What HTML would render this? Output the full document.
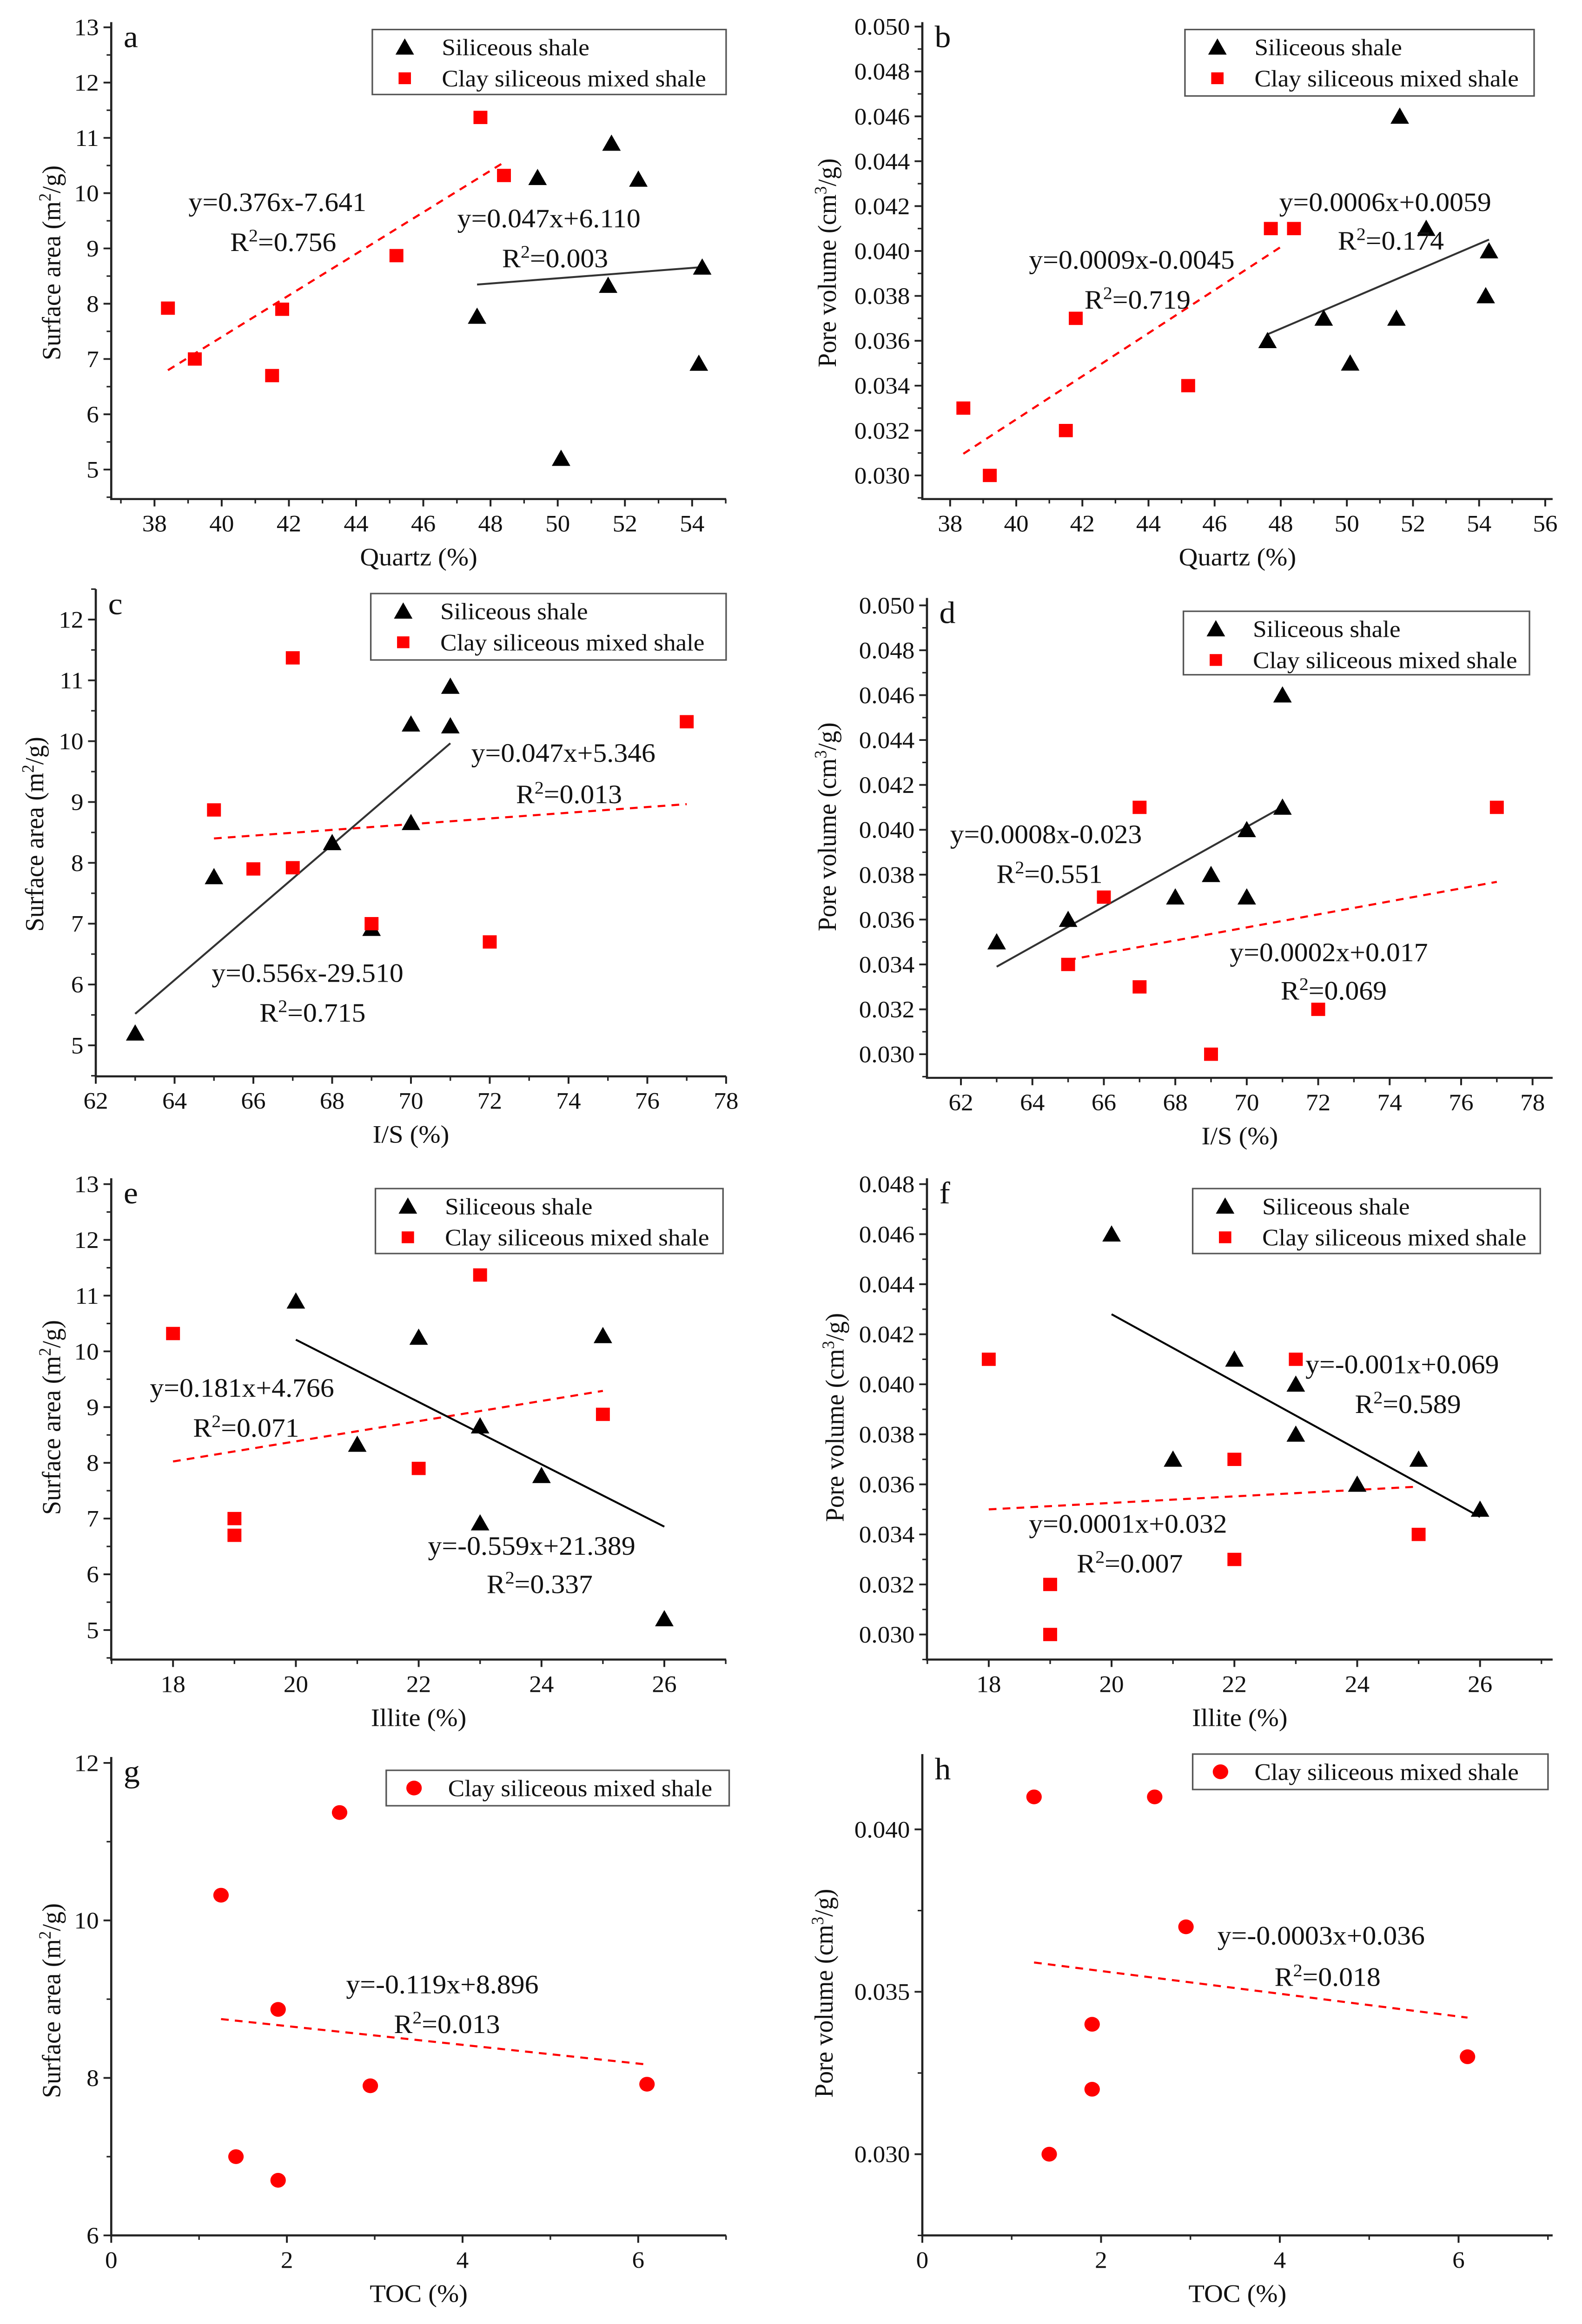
<!DOCTYPE html>
<html><head><meta charset="utf-8">
<style>
html,body{margin:0;padding:0;background:#fff;width:100vw;height:100vh;overflow:hidden;}
svg{display:block;position:absolute;left:0;top:0;width:100vw;height:100vh;}
text{font-family:"Liberation Serif","Times New Roman",serif;fill:#111;}
</style></head>
<body>
<svg id="fig" xmlns="http://www.w3.org/2000/svg" viewBox="0 0 1024 1574" preserveAspectRatio="none"></svg>
<script>
// ---------- DATA ----------
const aBlackX=[47.6,49.4,50.1,51.5,51.6,52.4,54.2,54.3];
const aBlackY=[7.77,10.28,5.2,8.33,10.9,10.25,6.92,8.66];
const aRedX=[38.4,39.2,41.5,41.8,45.2,47.7,48.4];
const aRedY=[7.92,7.0,6.7,7.9,8.87,11.37,10.32];
const aFitBlack=[0.047,6.110,47.6,54.3];
const aFitRed=[0.376,-7.641,38.4,48.4];

const bBlackX=[47.6,49.3,50.1,51.5,51.6,52.4,54.2,54.3];
const bBlackY=[0.036,0.037,0.035,0.037,0.046,0.041,0.038,0.040];
const bRedX=[38.4,39.2,41.5,41.8,45.2,47.7,48.4];
const bRedY=[0.033,0.030,0.032,0.037,0.034,0.041,0.041];
const bFitBlack=[0.00063,0.0063,47.6,54.3];
const bFitRed=[0.00096,-0.0059,38.4,48];

const cBlackX=[63,65,68,69,70,70,71,71];
const cBlackY=[5.2,7.77,8.33,6.92,10.28,8.66,10.9,10.25];
const cRedX=[65,66,67,67,69,72,77];
const cRedY=[8.87,7.9,11.37,7.92,7.0,6.7,10.32];
const cFitBlack=[0.556,-29.51,63,71];
const cFitRed=[0.047,5.346,65,77];

const dBlackX=[63,65,68,69,70,70,71,71];
const dBlackY=[0.035,0.036,0.037,0.038,0.040,0.037,0.046,0.041];
const dRedX=[65,66,67,67,69,72,77];
const dRedY=[0.034,0.037,0.041,0.033,0.030,0.032,0.041];
const dFitBlack=[0.00089,-0.02217,63,71];
const dFitRed=[0.00029,0.01535,65,77];

const eBlackX=[20,21,22,23,23,24,25,26];
const eBlackY=[10.9,8.33,10.25,8.66,6.92,7.77,10.28,5.2];
const eRedX=[18,19,19,22,23,25];
const eRedY=[10.32,7.0,6.7,7.9,11.37,8.87];
const eFitBlack=[-0.559,21.389,20,26];
const eFitRed=[0.181,4.766,18,25];

const fBlackX=[20,21,22,23,23,24,25,26];
const fBlackY=[0.046,0.037,0.041,0.040,0.038,0.036,0.037,0.035];
const fRedX=[18,19,19,22,22,23,25];
const fRedY=[0.041,0.032,0.030,0.037,0.033,0.041,0.034];
const fFitBlack=[-0.00135,0.0698,20,26];
const fFitRed=[0.00013,0.03266,18,25];

const gRedX=[1.25,1.42,1.9,1.9,2.6,2.95,6.1];
const gRedY=[10.32,7.0,8.87,6.7,11.37,7.9,7.92];
const gFitRed=[-0.119,8.896,1.25,6.1];

const hRedX=[1.25,1.42,1.9,1.9,2.6,2.95,6.1];
const hRedY=[0.041,0.030,0.034,0.032,0.041,0.037,0.033];
const hFitRed=[-0.00035,0.03634,1.25,6.1];

const xTicksQuartzA=[38,40,42,44,46,48,50,52,54];
const xTicksQuartzB=[38,40,42,44,46,48,50,52,54,56];
const xTicksIS=[62,64,66,68,70,72,74,76,78];
const xTicksIllite=[18,20,22,24,26];
const xTicksTOC=[0,2,4,6];
const yTicksSA=[5,6,7,8,9,10,11,12,13];
const yTicksSAc=[5,6,7,8,9,10,11,12];
const yTicksPV=[0.030,0.032,0.034,0.036,0.038,0.040,0.042,0.044,0.046,0.048,0.050];
const yTicksPVf=[0.030,0.032,0.034,0.036,0.038,0.040,0.042,0.044,0.046,0.048];
const yTicksSAg=[6,8,10,12];
const yTicksPVh=[0.030,0.035,0.040];

// ---------- DRAW ----------
const NS="http://www.w3.org/2000/svg";
const svg=document.getElementById('fig');
function mk(tag,attrs,parent){const e=document.createElementNS(NS,tag);for(const k in attrs)e.setAttribute(k,attrs[k]);(parent||svg).appendChild(e);return e;}

function panel(p){
  const g=mk('g',{});
  
  
  const sx=v=>p.L+(v-p.x0)/(p.x1-p.x0)*(p.R-p.L);
  const sy=v=>p.B-(v-p.y0)/(p.y1-p.y0)*(p.B-p.T);
  const ax=mk('path',{d:`M${p.L} ${p.T} L${p.L} ${p.B} L${p.R} ${p.B}`,fill:'none',stroke:'#222','stroke-width':1.4},g);
  
  
  p.xt.forEach(v=>{
    const x=sx(v);
    mk('line',{x1:x,y1:p.B,x2:x,y2:p.B+5,stroke:'#222','stroke-width':1.2},g);
    const t=mk('text',{x:x,y:p.B+22,'text-anchor':'middle','font-size':16},g);
    t.textContent=p.xf?p.xf(v):v;
    
    
  });
  for(let v=p.xt[0]-p.xm;v<=p.x1+1e-9;v+=p.xm){
    if(v<p.x0-1e-9)continue;
    mk('line',{x1:sx(v),y1:p.B,x2:sx(v),y2:p.B+3,stroke:'#222','stroke-width':1},g);
  }
  p.yt.forEach(v=>{
    const y=sy(v);
    mk('line',{x1:p.L-5,y1:y,x2:p.L,y2:y,stroke:'#222','stroke-width':1.2},g);
    const t=mk('text',{x:p.L-8,y:y+5.5,'text-anchor':'end','font-size':16},g);
    t.textContent=p.yf?p.yf(v):v;
    
    
  });
  for(let v=p.yt[0]-p.ym;v<=p.y1+1e-9;v+=p.ym){
    if(v<p.y0-1e-9)continue;
    mk('line',{x1:p.L-3,y1:sy(v),x2:p.L,y2:sy(v),stroke:'#222','stroke-width':1},g);
  }
  const xt=mk('text',{x:(p.L+p.R)/2,y:p.B+45,'text-anchor':'middle','font-size':17},g);
  xt.textContent=p.xlab;
  
  
  const yt=mk('text',{x:0,y:0,'text-anchor':'middle','font-size':17,transform:`translate(${p.yx},${p.yc}) rotate(-90)`},g);
  yt.innerHTML=p.ylab;
  
  
  const lt=mk('text',{x:p.L+8,y:p.T+17,'font-size':21},g);
  lt.textContent=p.id;
  
  
  p.fits.forEach(f=>{
    const d=f.v;
    const l=mk('line',{x1:sx(d[2]),y1:sy(d[0]*d[2]+d[1]),x2:sx(d[3]),y2:sy(d[0]*d[3]+d[1]),stroke:f.c,'stroke-width':f.c==='red'?1.4:1.3},g);
    if(f.c==='red')l.setAttribute('stroke-dasharray','5,4');
    
    
  });
  p.series.forEach(s=>{
    s.x.forEach((xv,i)=>{
      const x=sx(xv),y=sy(s.y[i]);let m;
      if(s.m==='tri')m=mk('path',{d:`M${x} ${y-6} L${x+6} ${y+5} L${x-6} ${y+5}Z`,fill:'#000'},g);
      else if(s.m==='sq')m=mk('rect',{x:x-4.5,y:y-4.5,width:9,height:9,fill:'#f00'},g);
      else m=mk('circle',{cx:x,cy:y,r:5,fill:'#f00'},g);
      
      
    });
  });
  p.ann.forEach(a=>{
    const t=mk('text',{x:a[0],y:a[1],'font-size':18},g);
    t.innerHTML=a[2];
    
    
  });
  const L=p.leg;
  const lg=mk('g',{},g);
  
  
  mk('rect',{x:L[0],y:L[1],width:L[2],height:L[3],fill:'#fff',stroke:'#555','stroke-width':1},lg);
  const rows=p.single?[['circ','Clay siliceous mixed shale']]:[['tri','Siliceous shale'],['sq','Clay siliceous mixed shale']];
  rows.forEach((r,i)=>{
    const cy=L[1]+(p.single?L[3]/2:12+i*21);const mx=L[0]+(p.single?18:21);
    let m;
    if(r[0]==='tri')m=mk('path',{d:`M${mx} ${cy-6} L${mx+6} ${cy+5} L${mx-6} ${cy+5}Z`,fill:'#000'},lg);
    else if(r[0]==='sq')m=mk('rect',{x:mx-4,y:cy-4,width:8,height:8,fill:'#f00'},lg);
    else m=mk('circle',{cx:mx,cy:cy,r:5,fill:'#f00'},lg);
    
    
    const t=mk('text',{x:mx+(p.single?22:24),y:cy+5.5,'font-size':16},lg);
    t.textContent=r[1];
    
    
  });
}
const f3=v=>v.toFixed(3);
const SA='Surface area (m<tspan baseline-shift="super" font-size="11">2</tspan>/g)';
const PV='Pore volume (cm<tspan baseline-shift="super" font-size="11">3</tspan>/g)';
const R2=v=>'R<tspan baseline-shift="super" font-size="12">2</tspan>='+v;

panel({id:'a',L:72,R:470,T:15,B:338,x0:38-28/43.5*2,x1:38+370/43.5*2,y0:5-20/37.5,y1:13+3.5/37.5,xt:xTicksQuartzA,xm:1,yt:yTicksSA,ym:0.5,
 xlab:'Quartz (%)',ylab:SA,yx:39,yc:178,
 fits:[{v:aFitRed,c:'red'},{v:aFitBlack,c:'#333'}],
 series:[{x:aBlackX,y:aBlackY,m:'tri'},{x:aRedX,y:aRedY,m:'sq'}],
 ann:[[122,143,'y=0.376x-7.641'],[149,170,R2('0.756')],[296,154,'y=0.047x+6.110'],[325,181,R2('0.003')]],
 leg:[241,20,229,44]});
panel({id:'b',L:597,R:1005,T:15,B:338,x0:38-18/21.4,x1:38+390/21.4,y0:0.030-16/15200,y1:0.050+3/15200,xt:xTicksQuartzB,xm:1,yt:yTicksPV,ym:0.001,yf:f3,
 xlab:'Quartz (%)',ylab:PV,yx:541,yc:178,
 fits:[{v:bFitRed,c:'red'},{v:bFitBlack,c:'#333'}],
 series:[{x:bBlackX,y:bBlackY,m:'tri'},{x:bRedX,y:bRedY,m:'sq'}],
 ann:[[666,182,'y=0.0009x-0.0045'],[702,209,R2('0.719')],[828,143,'y=0.0006x+0.0059'],[866,169,R2('0.174')]],
 leg:[767,20,226,45]});
panel({id:'c',L:62,R:470,T:399,B:729,x0:62,x1:78,y0:4.49,y1:12.5,xt:xTicksIS,xm:1,yt:yTicksSAc,ym:0.5,
 xlab:'I/S (%)',ylab:SA,yx:28,yc:565,
 fits:[{v:cFitRed,c:'red'},{v:cFitBlack,c:'#333'}],
 series:[{x:cBlackX,y:cBlackY,m:'tri'},{x:cRedX,y:cRedY,m:'sq'}],
 ann:[[305,516,'y=0.047x+5.346'],[334,544,R2('0.013')],[137,665,'y=0.556x-29.510'],[168,692,R2('0.715')]],
 leg:[240,402,230,45]});
panel({id:'d',L:600,R:1005,T:405,B:730,x0:62-22/23.125,x1:62+383/23.125,y0:0.030-16/15200,y1:0.050+5/15200,xt:xTicksIS,xm:1,yt:yTicksPV,ym:0.001,yf:f3,
 xlab:'I/S (%)',ylab:PV,yx:541,yc:560,
 fits:[{v:dFitRed,c:'red'},{v:dFitBlack,c:'#333'}],
 series:[{x:dBlackX,y:dBlackY,m:'tri'},{x:dRedX,y:dRedY,m:'sq'}],
 ann:[[615,571,'y=0.0008x-0.023'],[645,598,R2('0.551')],[796,651,'y=0.0002x+0.017'],[829,677,R2('0.069')]],
 leg:[766,414,224,43]});
panel({id:'e',L:72,R:470,T:798,B:1124,x0:18-40/39.75,x1:18+358/39.75,y0:5-20/37.75,y1:13+4/37.75,xt:xTicksIllite,xm:1,yt:yTicksSA,ym:0.5,
 xlab:'Illite (%)',ylab:SA,yx:39,yc:960,
 fits:[{v:eFitRed,c:'red'},{v:eFitBlack,c:'#000'}],
 series:[{x:eBlackX,y:eBlackY,m:'tri'},{x:eRedX,y:eRedY,m:'sq'}],
 ann:[[97,946,'y=0.181x+4.766'],[125,973,R2('0.071')],[277,1053,'y=-0.559x+21.389'],[315,1079,R2('0.337')]],
 leg:[243,805,225,44]});
panel({id:'f',L:600,R:1005,T:798,B:1124,x0:18-40/39.75,x1:18+365/39.75,y0:0.030-17/16950,y1:0.048+4/16950,xt:xTicksIllite,xm:1,yt:yTicksPVf,ym:0.001,yf:f3,
 xlab:'Illite (%)',ylab:PV,yx:546,yc:960,
 fits:[{v:fFitRed,c:'red'},{v:fFitBlack,c:'#000'}],
 series:[{x:fBlackX,y:fBlackY,m:'tri'},{x:fRedX,y:fRedY,m:'sq'}],
 ann:[[845,930,'y=-0.001x+0.069'],[877,957,R2('0.589')],[666,1038,'y=0.0001x+0.032'],[697,1065,R2('0.007')]],
 leg:[772,805,225,44]});
panel({id:'g',L:72,R:470,T:1190,B:1514,x0:0,x1:398/56.85,y0:6,y1:12+4/53.5,xt:xTicksTOC,xm:1,yt:yTicksSAg,ym:1,
 xlab:'TOC (%)',ylab:SA,yx:39,yc:1355,
 fits:[{v:gFitRed,c:'red'}],
 series:[{x:gRedX,y:gRedY,m:'circ'}],
 ann:[[224,1350,'y=-0.119x+8.896'],[255,1377,R2('0.013')]],
 leg:[250,1199,222,24],single:true});
panel({id:'h',L:597,R:1005,T:1188,B:1514,x0:0,x1:408/57.85,y0:0.030-55/22000,y1:0.040+51/22000,xt:xTicksTOC,xm:1,yt:yTicksPVh,ym:0.0025,yf:f3,
 xlab:'TOC (%)',ylab:PV,yx:539,yc:1350,
 fits:[{v:hFitRed,c:'red'}],
 series:[{x:hRedX,y:hRedY,m:'circ'}],
 ann:[[788,1317,'y=-0.0003x+0.036'],[825,1345,R2('0.018')]],
 leg:[772,1188,230,24],single:true});
</script>
</body></html>
